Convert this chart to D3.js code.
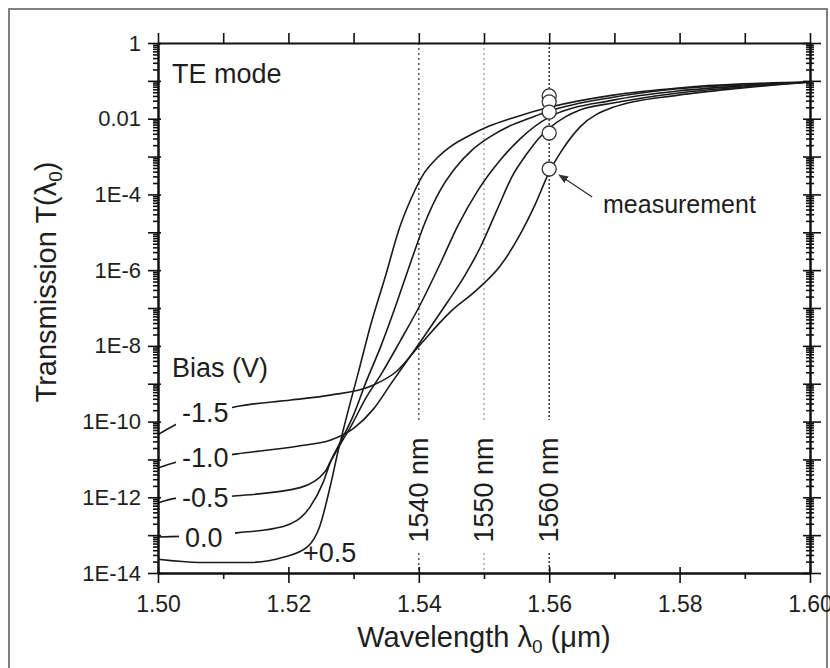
<!DOCTYPE html>
<html>
<head>
<meta charset="utf-8">
<script src="https://cdn.jsdelivr.net/npm/d3@7"></script>
<style>
  body { margin: 0; background: #fff; }
  text { font-family: "Liberation Sans", Arial, sans-serif; fill: #1e1e1e; }
</style>
</head>
<body>
<script>
// values: [wavelength (um), transmission]
var biasLabels = ['+0.5', '0.0', '-0.5', '-1.0', '-1.5'];

var curveP05 = [[1.5000,2.3e-14],[1.5064,1.9e-14],[1.5141,1.9e-14],[1.5192,2.6e-14],[1.5229,4.9e-14],
  [1.5248,1.7e-13],[1.5264,1.9e-12],[1.5276,1.6e-11],[1.5290,1.5e-10],[1.5307,1.9e-9],[1.5327,4.0e-8],
  [1.5348,6.2e-7],[1.5371,1.4e-5],[1.5390,9.1e-5],[1.5406,3.2e-4],[1.5425,8.1e-4],[1.5448,1.8e-3],
  [1.5479,3.7e-3],[1.5509,6.5e-3],[1.5544,1.05e-2],[1.5600,2.0e-2],[1.5698,4.2e-2],[1.5798,6.5e-2],
  [1.5897,8.3e-2],[1.6000,9.3e-2]];

var curve000 = [[1.5000,8.9e-14],[1.5121,1.15e-13],[1.5192,1.7e-13],[1.5233,5.5e-13],[1.5253,2.4e-12],
  [1.5264,8.1e-12],[1.5281,3.2e-11],[1.5298,1.25e-10],[1.5319,1.1e-9],[1.5342,1.0e-8],[1.5365,1.2e-7],
  [1.5388,1.7e-6],[1.5410,1.9e-5],[1.5433,1.3e-4],[1.5456,5.0e-4],[1.5482,1.5e-3],[1.5509,3.3e-3],
  [1.5540,6.5e-3],[1.5571,1.05e-2],[1.5600,1.6e-2],[1.5698,3.7e-2],[1.5798,6.2e-2],[1.5897,7.8e-2],
  [1.6000,9.3e-2]];

var curveM05 = [[1.5000,7.1e-13],[1.5029,9.5e-13],[1.5121,1.1e-12],[1.5218,1.8e-12],[1.5256,4.7e-12],
  [1.5264,8.5e-12],[1.5279,2.4e-11],[1.5298,8.7e-11],[1.5317,3.7e-10],[1.5344,2.0e-9],[1.5371,1.3e-8],
  [1.5402,1.2e-7],[1.5433,1.5e-6],[1.5460,1.5e-5],[1.5491,1.3e-4],[1.5525,8.1e-4],[1.5555,2.9e-3],
  [1.5600,1.1e-2],[1.5698,3.1e-2],[1.5798,5.4e-2],[1.5897,7.3e-2],[1.6000,9.3e-2]];

var curveM10 = [[1.5000,5.9e-12],[1.5029,8.5e-12],[1.5121,1.4e-11],[1.5218,2.3e-11],[1.5264,3.2e-11],
  [1.5301,6.8e-11],[1.5330,2.1e-10],[1.5359,1.1e-9],[1.5399,1.05e-8],[1.5443,1.35e-7],[1.5471,7.4e-7],
  [1.5494,3.9e-6],[1.5520,3.9e-5],[1.5544,3.2e-4],[1.5566,1.2e-3],[1.5586,3.3e-3],[1.5600,5.6e-3],
  [1.5624,1.1e-2],[1.5647,1.7e-2],[1.5698,2.6e-2],[1.5798,4.8e-2],[1.5897,6.9e-2],[1.6000,9.3e-2]];

var curveM15 = [[1.5000,4.5e-11],[1.5026,8.1e-11],[1.5121,2.5e-10],[1.5204,3.7e-10],[1.5264,5.0e-10],
  [1.5327,8.7e-10],[1.5367,2.2e-9],[1.5399,9.3e-9],[1.5448,7.8e-8],[1.5489,3.0e-7],[1.5525,1.3e-6],
  [1.5555,8.5e-6],[1.5578,5.2e-5],[1.5600,3.9e-4],[1.5620,1.5e-3],[1.5647,6.0e-3],[1.5698,2.0e-2],
  [1.5798,4.2e-2],[1.5897,6.5e-2],[1.6000,9.3e-2]];

var measLambda = 1.56;
var measT = [0.040, 0.028, 0.015, 4.2e-3, 4.7e-4];

var markLambdas = [1.54, 1.55, 1.56];
var markLabels = ['1540 nm', '1550 nm', '1560 nm'];

var xMajor = [1.50, 1.52, 1.54, 1.56, 1.58, 1.60];
var yLabelled = [1, 1e-2, 1e-4, 1e-6, 1e-8, 1e-10, 1e-12, 1e-14];

var svgWidth = 830;
var svgHeight = 668;
var svg = d3.select('body')
    .append('svg')
    .attr('width', svgWidth)
    .attr('height', svgHeight);

// outer frame of the figure
svg.append('rect')
    .attr('x', 9).attr('y', 9)
    .attr('width', 818).attr('height', 700)
    .attr('fill', 'none')
    .attr('stroke', '#808080')
    .attr('stroke-width', 2);

var x = d3.scaleLinear().domain([1.50, 1.60]).range([158, 810]);
var y = d3.scaleLog().domain([1e-14, 1]).range([573, 43]);

var decades = d3.range(0, -15, -1).map(function (e) { return Math.pow(10, e); });
var minors = [];
decades.slice(1).forEach(function (d) {
    for (var k = 2; k <= 9; k++) minors.push(d * k);
});
var xMinor = d3.range(0, 11).map(function (i) { return 1.50 + i * 0.01; })
    .filter(function (v) { return xMajor.every(function (m) { return Math.abs(m - v) > 1e-6; }); });

var g = svg.append('g');

// dotted reference wavelengths
var markColors = ['#555', '#aaa', '#333'];
markLambdas.forEach(function (m, i) {
    [[43, 420], [553, 573]].forEach(function (seg) {
        g.append('line')
            .attr('x1', x(m)).attr('x2', x(m))
            .attr('y1', seg[0]).attr('y2', seg[1])
            .attr('stroke', markColors[i])
            .attr('stroke-width', 1.5)
            .attr('stroke-dasharray', i === 2 ? '2,2' : '2,3');
    });
    g.append('text')
        .attr('transform', 'translate(' + (x(m) + 9) + ',490) rotate(-90)')
        .attr('text-anchor', 'middle')
        .style('font-size', '27px')
        .text(markLabels[i]);
});

// curves
var line = d3.line()
    .x(function (d) { return x(d[0]); })
    .y(function (d) { return y(d[1]); })
    .curve(d3.curveMonotoneX);

var curves = [curveP05, curve000, curveM05, curveM10, curveM15];
g.selectAll('path.curve')
    .data(curves)
    .enter()
    .append('path')
    .attr('class', 'curve')
    .attr('d', line)
    .attr('fill', 'none')
    .attr('stroke', '#1a1a1a')
    .attr('stroke-width', 1.6);

// bias labels sit on the curves with a white box behind
var labelPos = [[303, 562, false], [185, 547, true], [182, 507, true], [182, 467, true], [182, 422, true]];
biasLabels.forEach(function (lab, i) {
    var p = labelPos[i];
    if (p[2]) {
        g.append('rect')
            .attr('x', p[0] - 6).attr('y', p[1] - 24)
            .attr('width', 56).attr('height', 30)
            .attr('fill', '#fff');
    }
    g.append('text')
        .attr('x', p[0]).attr('y', p[1])
        .style('font-size', '27px')
        .text(lab);
});

// measured points
g.selectAll('circle.meas')
    .data(measT)
    .enter()
    .append('circle')
    .attr('class', 'meas')
    .attr('cx', x(measLambda))
    .attr('cy', function (d) { return y(d); })
    .attr('r', 7)
    .attr('fill', '#fff')
    .attr('stroke', '#333')
    .attr('stroke-width', 1.3);

// arrow to the lowest measurement
var ax = x(measLambda), ay = y(measT[measT.length - 1]);
svg.append('defs').append('marker')
    .attr('id', 'ah').attr('viewBox', '0 0 10 10')
    .attr('refX', 9).attr('refY', 5)
    .attr('markerWidth', 7).attr('markerHeight', 7)
    .attr('orient', 'auto')
    .append('path').attr('d', 'M0,1 L10,5 L0,9 Z').attr('fill', '#333');
g.append('line')
    .attr('x1', ax + 43).attr('y1', ay + 28)
    .attr('x2', ax + 10).attr('y2', ay + 6)
    .attr('stroke', '#333')
    .attr('stroke-width', 1.4)
    .attr('marker-end', 'url(#ah)');
g.append('text')
    .attr('x', 603).attr('y', 213)
    .style('font-size', '25px')
    .text('measurement');

g.append('text').attr('x', 172).attr('y', 83).style('font-size', '27px').text('TE mode');
g.append('text').attr('x', 172).attr('y', 377).style('font-size', '27px').text('Bias (V)');

// axes
function styleAxis(sel) {
    sel.select('.domain').attr('stroke', '#111').attr('stroke-width', 2);
    sel.selectAll('.tick line').attr('stroke', '#111').attr('stroke-width', 1.6);
}

var bottom = g.append('g').attr('transform', 'translate(0,573)')
    .call(d3.axisBottom(x).tickValues(xMajor).tickFormat(d3.format('.2f'))
        .tickSize(10).tickPadding(13).tickSizeOuter(0));
bottom.selectAll('.tick line').attr('y1', -6);
bottom.selectAll('.tick text').style('font-size', '23px').attr('fill', '#1e1e1e');
styleAxis(bottom);
g.append('g').attr('transform', 'translate(0,573)')
    .call(d3.axisBottom(x).tickValues(xMinor).tickFormat('').tickSize(6).tickSizeOuter(0))
    .call(styleAxis);

g.append('g').attr('transform', 'translate(0,43)')
    .call(d3.axisTop(x).tickValues(xMajor.concat(xMinor)).tickFormat('').tickSize(10).tickSizeOuter(0))
    .call(styleAxis);

var left = g.append('g').attr('transform', 'translate(158,0)')
    .call(d3.axisLeft(y).tickValues(decades).tickSize(10).tickPadding(7).tickSizeOuter(0)
        .tickFormat(function (d) {
            if (yLabelled.indexOf(d) < 0) return '';
            if (d === 1) return '1';
            if (d === 1e-2) return '0.01';
            return '1E' + Math.round(Math.log10(d));
        }));
left.selectAll('.tick line').attr('x1', 3);
left.selectAll('.tick text').style('font-size', '22px').attr('fill', '#1e1e1e');
styleAxis(left);
g.append('g').attr('transform', 'translate(158,0)')
    .call(d3.axisLeft(y).tickValues(minors).tickFormat('').tickSize(5).tickSizeOuter(0))
    .call(styleAxis);

var right = g.append('g').attr('transform', 'translate(810,0)')
    .call(d3.axisRight(y).tickValues(decades).tickFormat('').tickSize(11).tickSizeOuter(0));
right.selectAll('.tick line').attr('x1', -7);
styleAxis(right);
var rightMinor = g.append('g').attr('transform', 'translate(810,0)')
    .call(d3.axisRight(y).tickValues(minors).tickFormat('').tickSize(4).tickSizeOuter(0));
rightMinor.selectAll('.tick line').attr('x1', -4);
styleAxis(rightMinor);

// axis titles
var yt = svg.append('text')
    .attr('transform', 'translate(56,282) rotate(-90)')
    .attr('text-anchor', 'middle')
    .style('font-size', '29px');
yt.append('tspan').text('Transmission T(\u03bb');
yt.append('tspan').attr('baseline-shift', '-30%').style('font-size', '19px').text('0');
yt.append('tspan').text(')');

var xt = svg.append('text')
    .attr('x', 484).attr('y', 647)
    .attr('text-anchor', 'middle')
    .style('font-size', '29px');
xt.append('tspan').text('Wavelength \u03bb');
xt.append('tspan').attr('baseline-shift', '-30%').style('font-size', '19px').text('0');
xt.append('tspan').text(' (\u03bcm)');
</script>
</body>
</html>
